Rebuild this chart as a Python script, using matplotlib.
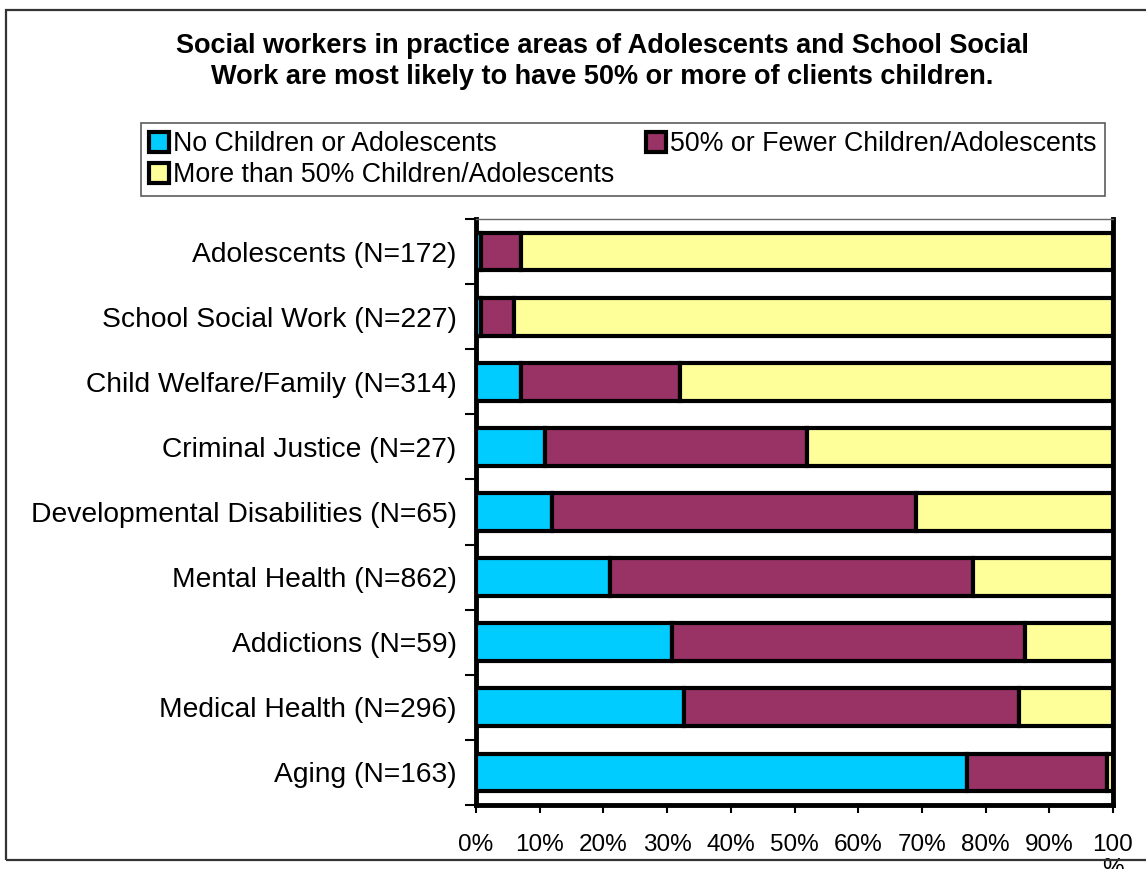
import matplotlib
matplotlib.use("Agg")
import matplotlib.pyplot as plt
from matplotlib.patches import Rectangle, Patch
import numpy as np

plt.rcParams['font.family'] = ['Liberation Sans', 'DejaVu Sans']

categories = ["Adolescents (N=172)", "School Social Work (N=227)", "Child Welfare/Family (N=314)",
              "Criminal Justice (N=27)", "Developmental Disabilities (N=65)", "Mental Health (N=862)",
              "Addictions (N=59)", "Medical Health (N=296)", "Aging (N=163)"]
no_children = [0.8, 0.8, 7.0, 10.9, 12.0, 21.0, 30.7, 32.7, 77.1]
fewer_50 = [6.2, 5.2, 25.0, 41.1, 57.0, 57.0, 55.5, 52.5, 22.0]
more_50 = [93.0, 94.0, 68.0, 48.0, 31.0, 22.0, 13.8, 14.8, 0.9]
series_names = ["No Children or Adolescents", "50% or Fewer Children/Adolescents",
                "More than 50% Children/Adolescents"]
colors = ["#00CCFF", "#993366", "#FFFF99"]
xticks = [0, 10, 20, 30, 40, 50, 60, 70, 80, 90, 100]
xticklabels = ["0%", "10%", "20%", "30%", "40%", "50%", "60%", "70%", "80%", "90%", "100\n%"]

W, H = 1146, 869
fig = plt.figure(figsize=(W/100, H/100), dpi=100)

# outer frame
fig.patches.append(Rectangle((6/W, 1-860/H), (1160-6)/W, (860-10)/H, transform=fig.transFigure,
                             fill=False, edgecolor="#333333", linewidth=1.6, zorder=0))

ax = fig.add_axes([476/W, 1-805/H, (1113-476)/W, (805-219)/H])
y = np.arange(len(categories))
left = np.zeros(len(categories))
handles = []
for vals, c, name in zip([no_children, fewer_50, more_50], colors, series_names):
    ax.barh(y, vals, left=left, height=0.58, color=c, edgecolor="black", linewidth=3, zorder=3)
    left = left + np.array(vals)
    handles.append(Patch(facecolor=c, edgecolor="black", linewidth=3, label=name))

ax.set_xlim(0, 100)
ax.set_ylim(len(categories)-0.5, -0.5)
ax.set_yticks(np.arange(-0.5, len(categories)), minor=False)
ax.set_yticklabels([])
ax.set_yticks(y, minor=True)
ax.set_yticklabels(categories, minor=True, fontsize=20.3)
ax.tick_params(axis='y', which='major', length=8, width=1.5, direction='out')
ax.tick_params(axis='y', which='minor', length=0, pad=14)
ax.set_xticks(xticks)
ax.set_xticklabels(xticklabels, fontsize=17.5, linespacing=1.1, va='top')
ax.tick_params(axis='x', length=6, width=1.5, pad=15)
for s in ['left', 'bottom', 'right']:
    ax.spines[s].set_linewidth(3.5)
    ax.spines[s].set_color("black")
ax.spines['top'].set_linewidth(1)
ax.spines['top'].set_color("#666666")

fig.text(602/W, 1-46/H, "Social workers in practice areas of Adolescents and School Social",
         ha='center', va='center', fontsize=19.5, fontweight='bold')
fig.text(602/W, 1-77/H, "Work are most likely to have 50% or more of clients children.",
         ha='center', va='center', fontsize=19.5, fontweight='bold')

order = [0, 2, 1]
leg = fig.legend([handles[i] for i in order], [series_names[i] for i in order],
                 loc='upper left', bbox_to_anchor=(141/W, 1-198/H, (1105-141)/W, 75/H),
                 bbox_transform=fig.transFigure, mode='expand', ncol=2, fontsize=19.3,
                 frameon=True, fancybox=False, edgecolor="#333333", borderaxespad=0,
                 handlelength=0.75, handleheight=0.75, handletextpad=0.15, labelspacing=0.2,
                 borderpad=0.3, columnspacing=1.0)
leg.get_frame().set_linewidth(1.2)

fig.savefig("out.png", dpi=100)
